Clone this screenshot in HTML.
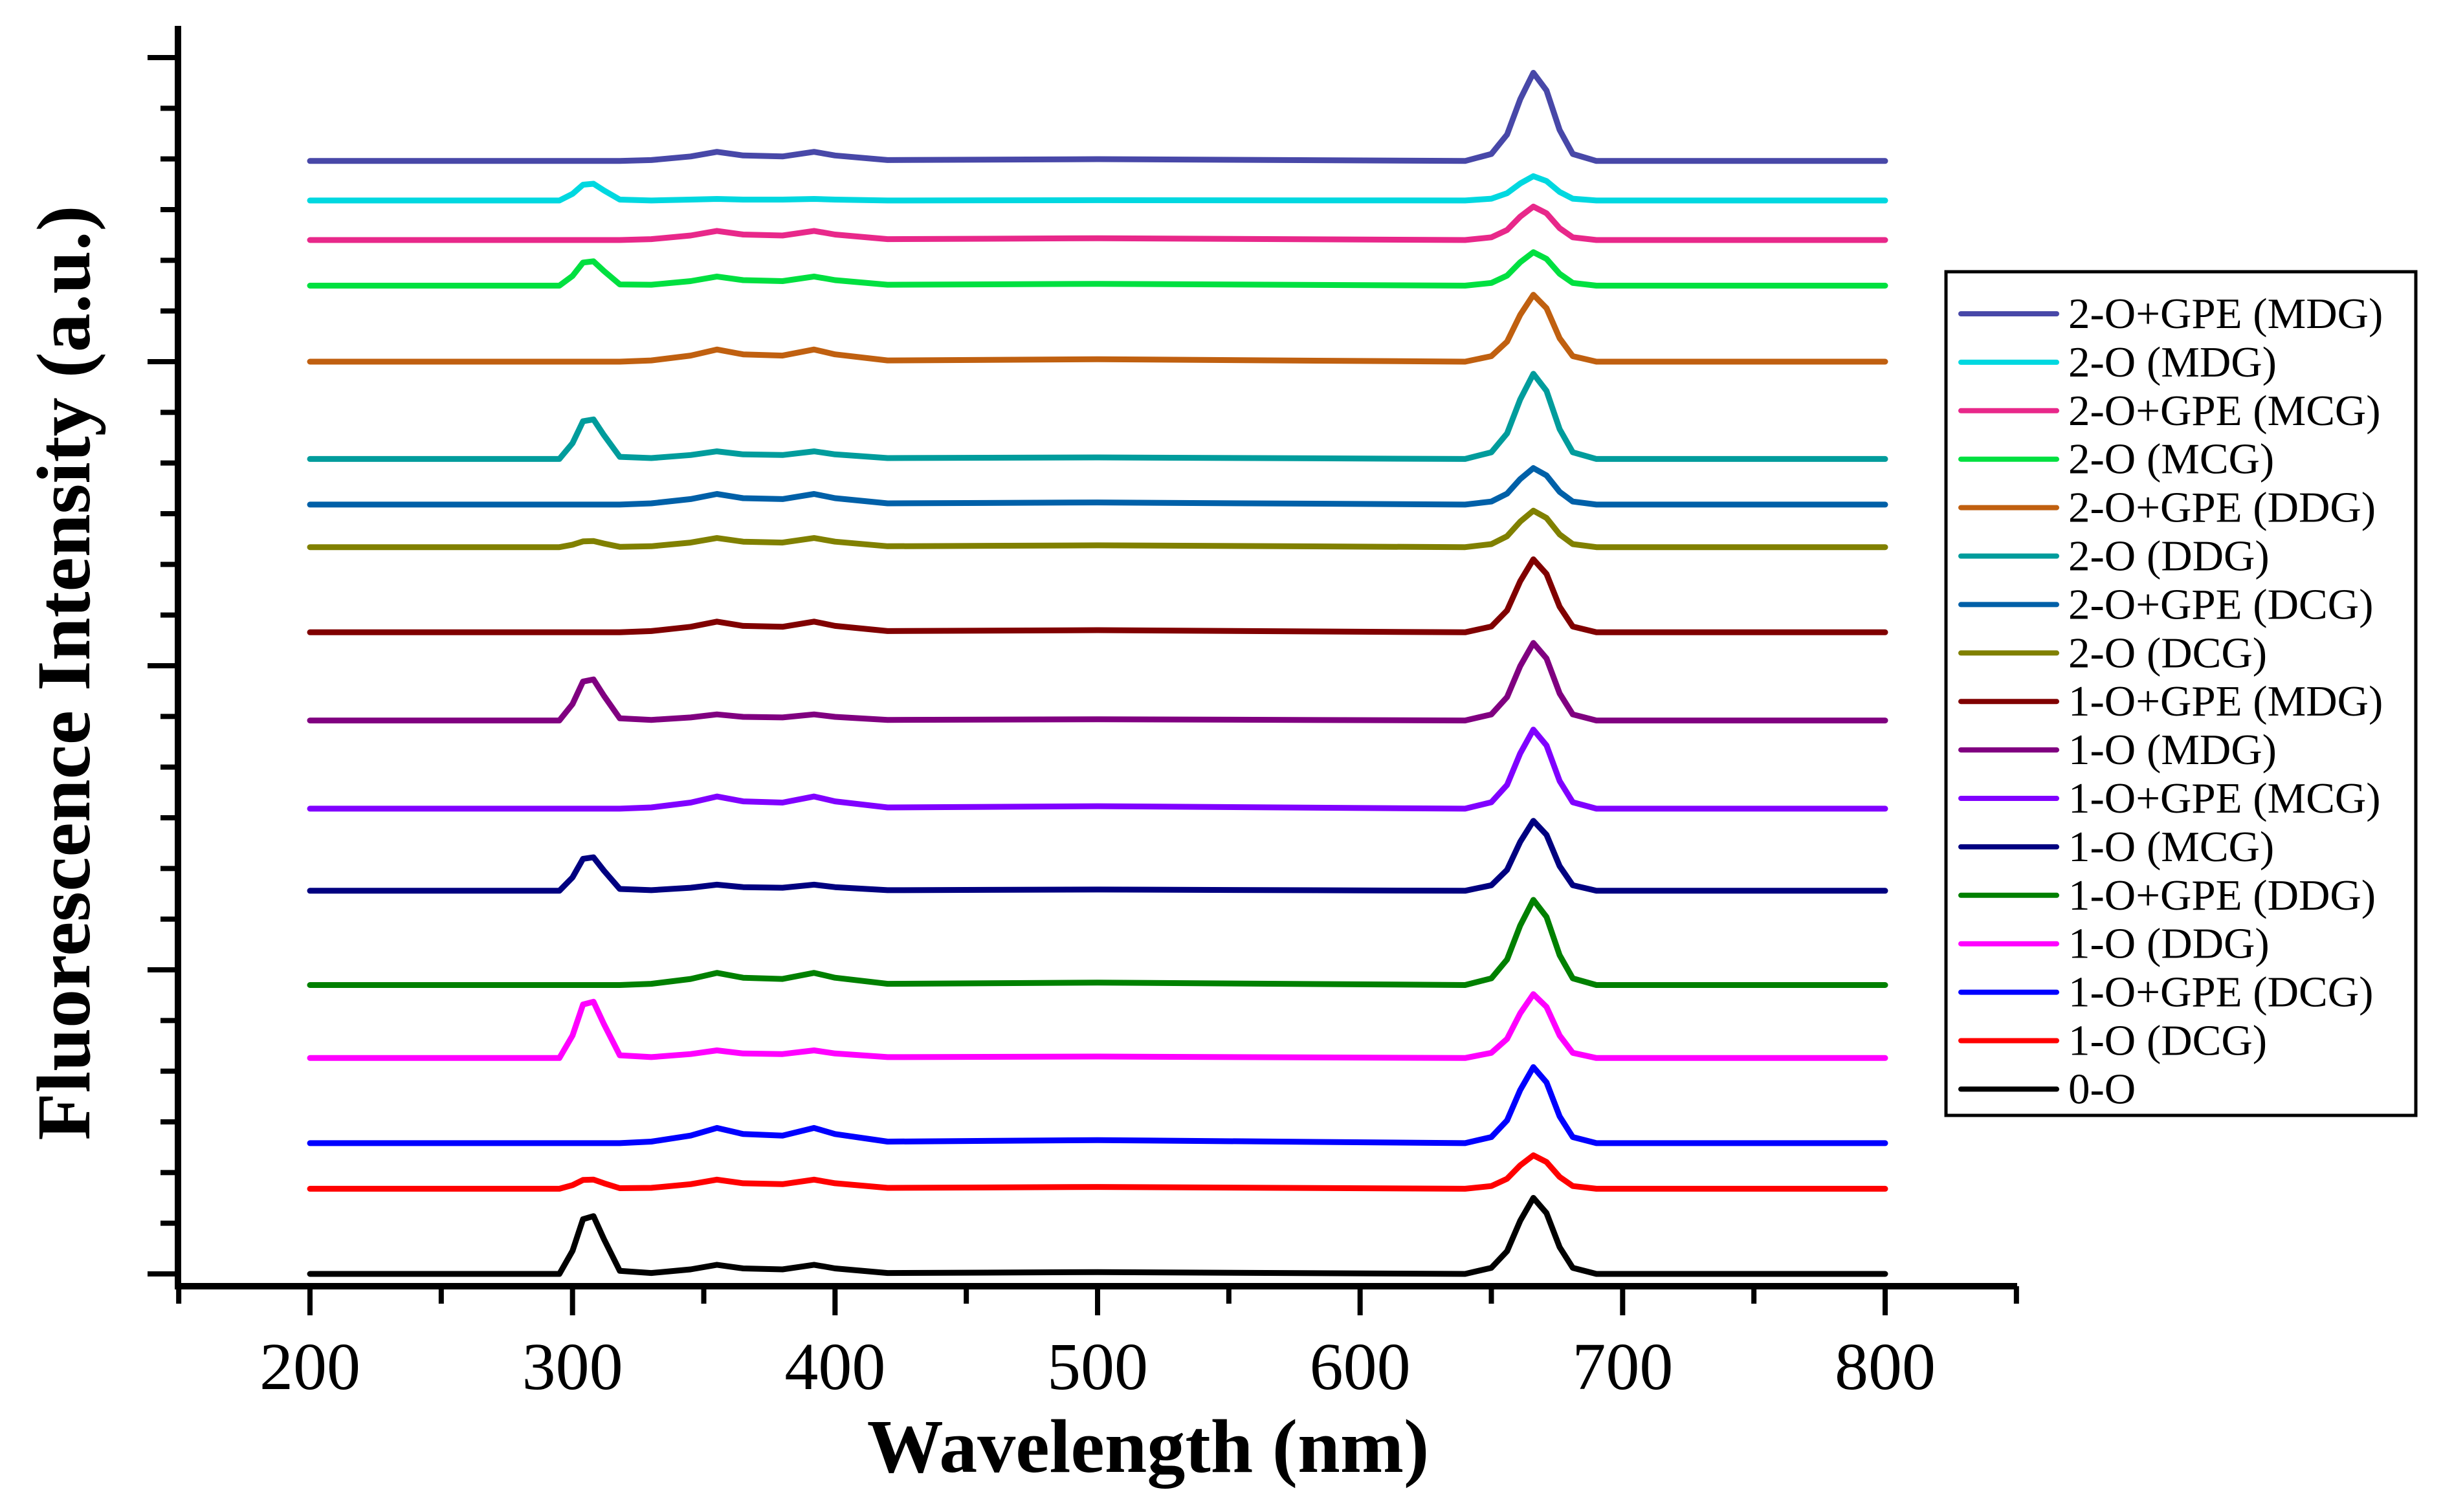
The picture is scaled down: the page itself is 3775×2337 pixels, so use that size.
<!DOCTYPE html>
<html><head><meta charset="utf-8"><style>
html,body{margin:0;padding:0;background:#fff}
svg{display:block}
text{font-family:"Liberation Serif",serif;fill:#000}
</style></head><body>
<svg id="chart" width="3775" height="2337" viewBox="0 0 3775 2337" xmlns="http://www.w3.org/2000/svg">
<g id="axes"></g>
<g id="plot"></g>
<g id="legend"></g>
<text x="1774" y="2275" text-anchor="middle" font-size="118" font-weight="bold">Wavelength (nm)</text>
<text transform="translate(138,1040) rotate(-90)" text-anchor="middle" font-size="118" font-weight="bold" textLength="1445" lengthAdjust="spacingAndGlyphs">Fluorescence Intensity (a.u.)</text>
</svg>
<script>
const wavelengths=[200,295,300,304,308,312,318,330,345,355,365,380,392,400,420,500,640,650,656,661,666,671,676,681,690,800];
const xTickLabels=[200,300,400,500,600,700,800];
const seriesNames=["0-O","1-O (DCG)","1-O+GPE (DCG)","1-O (DDG)","1-O+GPE (DDG)","1-O (MCG)","1-O+GPE (MCG)","1-O (MDG)","1-O+GPE (MDG)","2-O (DCG)","2-O+GPE (DCG)","2-O (DDG)","2-O+GPE (DDG)","2-O (MCG)","2-O+GPE (MCG)","2-O (MDG)","2-O+GPE (MDG)"];
const seriesColors=["#000000","#ff0000","#0000ff","#ff00ff","#008000","#000080","#8000ff","#800080","#800000","#808000","#0060a8","#009c9c","#c06010","#00e040","#e8288a","#00d8e0","#4848a8"];
const s00=[0,0,7.6,18,19,11.4,1,0.3,1.5,3,1.8,1.5,3,1.8,0.3,0.6,0,2,7.5,17.5,25,20,8.8,2,0,0];
const s01=[28,28,29.2,30.9,31,29.8,28.2,28.3,29.5,31,29.8,29.5,31,29.8,28.3,28.6,28,28.9,31.3,35.7,39,36.8,31.9,28.9,28,28];
const s02=[43,43,43,43,43,43,43,43.5,45.5,48,46,45.5,48,46,43.5,44,43,45,50.5,60.5,68,63,51.8,45,43,43];
const s03=[71,71,78.4,88.6,89.5,82.1,71.9,71.3,72.3,73.5,72.5,72.3,73.5,72.5,71.3,71.5,71,72.7,77.3,85.7,92,87.8,78.4,72.7,71,71];
const s04=[95,95,95,95,95,95,95,95.4,97,99,97.4,97,99,97.4,95.4,95.8,95,97.2,103.4,114.6,123,117.4,104.8,97.2,95,95];
const s05=[126,126,130.4,136.5,137,132.6,126.6,126.2,127,128,127.2,127,128,127.2,126.2,126.4,126,127.8,132.9,142.1,149,144.4,134.1,127.8,126,126];
const s06=[153,153,153,153,153,153,153,153.4,155,157,155.4,155,157,155.4,153.4,153.8,153,155.1,160.8,171.2,179,173.8,162.1,155.1,153,153];
const s07=[182,182,187.4,194.8,195.5,190.1,182.7,182.2,183,184,183.2,183,184,183.2,182.2,182.4,182,184,189.7,199.9,207.5,202.4,190.9,184,182,182];
const s08=[211,211,211,211,211,211,211,211.4,212.8,214.5,213.1,212.8,214.5,213.1,211.4,211.7,211,212.9,218.2,227.8,235,230.2,219.4,212.9,211,211];
const s09=[239,239,239.8,240.9,241,240.2,239.1,239.3,240.5,242,240.8,240.5,242,240.8,239.3,239.6,239,240,242.6,247.4,251,248.6,243.2,240,239,239];
const s10=[253,253,253,253,253,253,253,253.4,254.8,256.5,255.1,254.8,256.5,255.1,253.4,253.7,253,254,256.6,261.4,265,262.6,257.2,254,253,253];
const s11=[268,268,273.2,280.4,281,275.8,268.7,268.3,269.3,270.5,269.5,269.3,270.5,269.5,268.3,268.5,268,270.2,276.4,287.6,296,290.4,277.8,270.2,268,268];
const s12=[300,300,300,300,300,300,300,300.4,302,304,302.4,302,304,302.4,300.4,300.8,300,301.8,306.6,315.4,322,317.6,307.7,301.8,300,300];
const s13=[325,325,328.2,332.6,333,329.8,325.4,325.3,326.5,328,326.8,326.5,328,326.8,325.3,325.6,325,325.9,328.3,332.7,336,333.8,328.9,325.9,325,325];
const s14=[340,340,340,340,340,340,340,340.3,341.5,343,341.8,341.5,343,341.8,340.3,340.6,340,340.9,343.3,347.7,351,348.8,343.9,340.9,340,340];
const s15=[353,353,355.2,358.2,358.5,356.3,353.3,353,353.3,353.5,353.3,353.3,353.5,353.3,353,353.1,353,353.6,355.4,358.6,361,359.4,355.8,353.6,353,353];
const s16=[366,366,366,366,366,366,366,366.3,367.5,369,367.8,367.5,369,367.8,366.3,366.6,366,368.3,374.7,386.3,395,389.2,376.2,368.3,366,366];
const allSeries=[s00,s01,s02,s03,s04,s05,s06,s07,s08,s09,s10,s11,s12,s13,s14,s15,s16];

const NS="http://www.w3.org/2000/svg";
const X0=275,X1=3117,Y0=1988;
function xS(w){return 479+(w-200)*(2913-479)/600;}
function yS(v){return 1969-v*4.7;}
function mk(tag,attrs,parent){const e=document.createElementNS(NS,tag);for(const k in attrs)e.setAttribute(k,attrs[k]);parent.appendChild(e);return e;}
const axes=document.getElementById('axes'),plot=document.getElementById('plot'),legend=document.getElementById('legend');

let a=mk('line',{x1:X0,y1:40,x2:X0,y2:Y0+5,stroke:'#000','stroke-width':10},axes);


a=mk('line',{x1:X0-5,y1:Y0,x2:X1,y2:Y0,stroke:'#000','stroke-width':10},axes);


for(let w=150;w<=850;w+=50){
  const major=(w%100===0)&&w>=200&&w<=800;
  const t=mk('line',{x1:xS(w),y1:Y0,x2:xS(w),y2:Y0+(major?45:27),stroke:'#000','stroke-width':8},axes);
  
  
}
xTickLabels.forEach(w=>{
  const t=mk('text',{x:xS(w),y:2147,'text-anchor':'middle','font-size':104},axes);
  t.textContent=w;
  
  
});
for(let i=0;i<=24;i++){
  const v=i*100/6;const major=i%6===0;
  const y=yS(v);
  const t=mk('line',{x1:X0,y1:y,x2:X0-(major?47:27),y2:y,stroke:'#000','stroke-width':8},axes);
  
  
}

allSeries.forEach((s,i)=>{
  const d=s.map((v,j)=>(j?'L':'M')+xS(wavelengths[j]).toFixed(1)+','+yS(v).toFixed(1)).join(' ');
  const p=mk('path',{d:d,fill:'none',stroke:seriesColors[i],'stroke-width':9,'stroke-linejoin':'round','stroke-linecap':'round'},plot);
  
  
});

const box=mk('rect',{x:3007,y:420,width:726,height:1304,fill:'#fff',stroke:'#000','stroke-width':5},legend);


for(let k=0;k<17;k++){
  const i=16-k;const y=485+k*74.9;
  const g=mk('g',{},legend);
  
  
  mk('line',{x1:3030,y1:y,x2:3178,y2:y,stroke:seriesColors[i],'stroke-width':8,'stroke-linecap':'round'},g);
  const t=mk('text',{x:3196,y:y+22,'font-size':67},g);
  t.textContent=seriesNames[i];
}
</script>
</body></html>
